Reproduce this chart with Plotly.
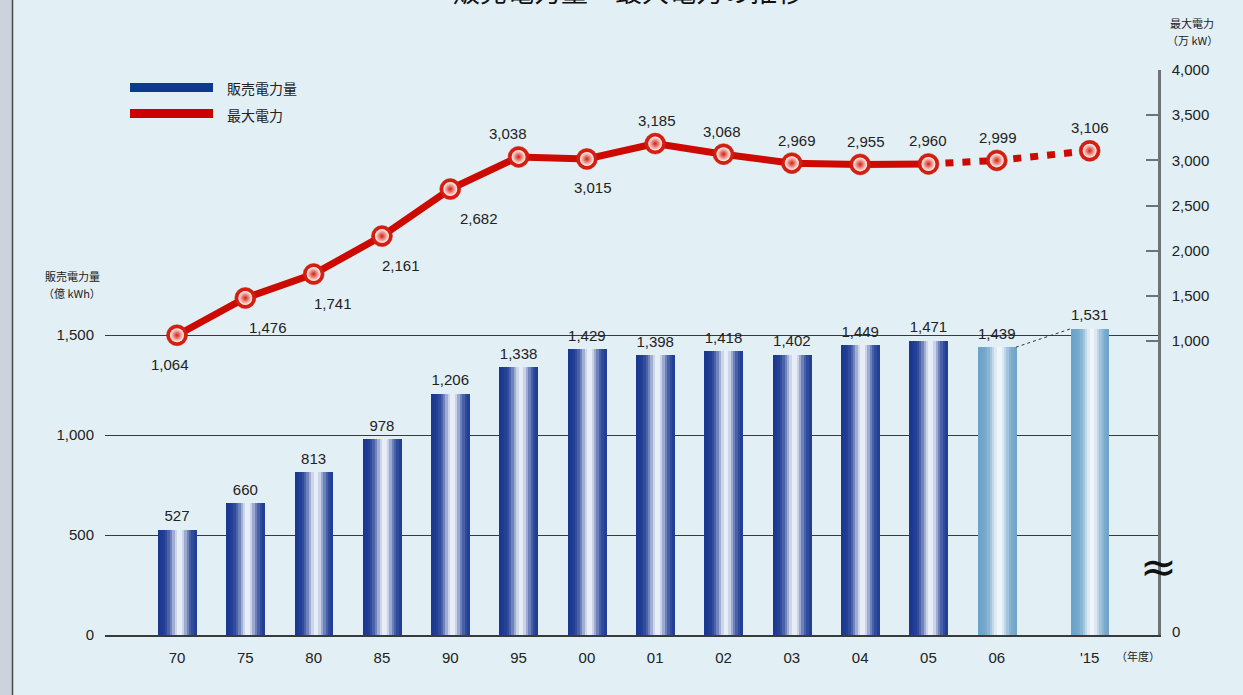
import numpy as np
import plotly.graph_objects as go

# ---------------- data ----------------
years = ["70", "75", "80", "85", "90", "95", "00", "01", "02", "03", "04", "05", "06", "'15"]
sales = [527, 660, 813, 978, 1206, 1338, 1429, 1398, 1418, 1402, 1449, 1471, 1439, 1531]   # 億kWh
peak = [1064, 1476, 1741, 2161, 2682, 3038, 3015, 3185, 3068, 2969, 2955, 2960, 2999, 3106]  # 万kW
forecast_from = 12          # index from which bars are outlook (light colour)
line_dotted_from = 11       # line becomes dotted after this index
left_ticks = [0, 500, 1000, 1500]
right_ticks = [1000, 1500, 2000, 2500, 3000, 3500, 4000]

# label placement (style): above (+1) / below (-1) the point, horizontal nudge in px
peak_label_side = [-1, -1, -1, -1, -1, 1, -1, 1, 1, 1, 1, 1, 1, 1]
peak_label_dx = [-7, 23, 19, 19, 29, -11, 6, 2, -2, 5, 6, 0, 1, 0]

# ---------------- geometry / styling ----------------
W, H = 1243, 695
ML, MR, MT, MB = 105, 85, 70, 60
PW, PH = W - ML - MR, H - MT - MB

xpos = np.arange(len(years), dtype=float)
xpos[-1] += 0.36                      # wider gap before the '15 outlook
bar_w = 0.56

def px2paper_x(px):
    return (px - ML) / PW

def px2paper_y(py):
    return (H - MB - py) / PH

BG = "#e2eff5"
TXT = "#222222"
FONT = "Liberation Sans, Arial, Noto Sans CJK JP, sans-serif"
JFONT = "Noto Sans CJK JP, sans-serif"

fig = go.Figure()

# ---- cylinder-like bars made of vertical strips ----
N = 16
dark_b, light_b = np.array([26, 56, 145]), np.array([236, 241, 249])
dark_l, light_l = np.array([108, 163, 200]), np.array([242, 247, 251])
for i in range(N):
    t = (i + 0.5) / N
    b = np.exp(-((t - 0.56) / 0.23) ** 2)
    cb = (dark_b + (light_b - dark_b) * b).astype(int)
    cl = (dark_l + (light_l - dark_l) * b).astype(int)
    colors = [f"rgb({cb[0]},{cb[1]},{cb[2]})" if k < forecast_from else f"rgb({cl[0]},{cl[1]},{cl[2]})"
              for k in range(len(years))]
    sw = bar_w / N
    fig.add_trace(go.Bar(
        x=xpos, y=sales, width=sw * 1.25, offset=-bar_w / 2 + i * sw,
        marker=dict(color=colors, line=dict(width=0)),
        hoverinfo="skip", showlegend=False, yaxis="y"))

# bar value labels
fig.add_trace(go.Scatter(
    x=xpos, y=sales, mode="markers+text", text=[f"{v:,}" for v in sales],
    marker=dict(size=6, opacity=0),
    textposition="top center", textfont=dict(size=15, color=TXT, family=FONT),
    hoverinfo="skip", showlegend=False, yaxis="y"))

# dotted connector between 06 and '15 bars
fig.add_trace(go.Scatter(
    x=[xpos[-2] + bar_w / 2, xpos[-1] - bar_w / 2], y=[sales[-2], sales[-1]],
    mode="lines", line=dict(color="#333333", width=1, dash="dot"),
    hoverinfo="skip", showlegend=False, yaxis="y"))

# ---- peak line ----
RED = "#cc0a00"
k = line_dotted_from
fig.add_trace(go.Scatter(
    x=xpos[:k + 1], y=peak[:k + 1], mode="lines",
    line=dict(color=RED, width=7), hoverinfo="skip", showlegend=False, yaxis="y2"))
fig.add_trace(go.Scatter(
    x=xpos[k:], y=peak[k:], mode="lines",
    line=dict(color=RED, width=7, dash="8px,9px"), hoverinfo="skip", showlegend=False, yaxis="y2"))
# sphere markers
BALL = "#d41e10"
fig.add_trace(go.Scatter(
    x=xpos, y=peak, mode="markers",
    marker=dict(size=21, color=BALL, line=dict(color="#c01a0c", width=0.5)),
    hoverinfo="skip", showlegend=False, yaxis="y2"))
fig.add_trace(go.Scatter(
    x=xpos, y=peak, mode="markers",
    marker=dict(size=14, color="#fff8f5",
                gradient=dict(type="radial", color=BALL), line=dict(width=0)),
    hoverinfo="skip", showlegend=False, yaxis="y2"))

# ---------------- layout ----------------
y_per_px = 1500 / 300.0
y2_lo = 1000 - (H - MB - 341) / (271 / 3000)
fig.update_layout(
    width=W, height=H, paper_bgcolor=BG, plot_bgcolor=BG,
    margin=dict(l=ML, r=MR, t=MT, b=MB),
    barmode="overlay", bargap=0, showlegend=False,
    font=dict(family=FONT, size=14, color=TXT),
    xaxis=dict(range=[-1.054, 14.36], tickvals=xpos, ticktext=years,
               showline=True, linecolor="#3a3a3a", linewidth=2, showgrid=False,
               zeroline=False, ticks="", tickfont=dict(size=15, color=TXT), ticklabelstandoff=8),
    yaxis=dict(range=[0, PH * y_per_px], tickvals=left_ticks,
               ticktext=[f"{v:,}" for v in left_ticks],
               showgrid=True, gridcolor="#3a3a3a", gridwidth=1, zeroline=False,
               showline=False, ticks="", tickfont=dict(size=15, color=TXT), ticklabelstandoff=10),
    yaxis2=dict(range=[y2_lo, 4000], overlaying="y", side="right",
                tickvals=right_ticks, ticktext=[f"{v:,}" for v in right_ticks],
                showgrid=False, zeroline=False, showline=True, linecolor="#6e7378", linewidth=2.5,
                ticks="inside", ticklen=12, tickwidth=1.5, tickcolor="#6e7378",
                tickfont=dict(size=15, color=TXT), ticklabelstandoff=8),
)

shapes = [
    # left gray band of the page
    dict(type="rect", xref="paper", yref="paper", x0=px2paper_x(-5), x1=px2paper_x(12),
         y0=px2paper_y(H + 5), y1=px2paper_y(-5), fillcolor="#cdd3dc", line=dict(width=0), layer="above"),
    dict(type="line", xref="paper", yref="paper", x0=px2paper_x(12.5), x1=px2paper_x(12.5),
         y0=px2paper_y(H + 5), y1=px2paper_y(-5), line=dict(color="#4a4a4a", width=1.5)),
    # legend swatches
    dict(type="rect", xref="paper", yref="paper", x0=px2paper_x(130), x1=px2paper_x(213),
         y0=px2paper_y(92), y1=px2paper_y(83), fillcolor="#0d3a8c", line=dict(width=0)),
    dict(type="rect", xref="paper", yref="paper", x0=px2paper_x(130), x1=px2paper_x(213),
         y0=px2paper_y(118), y1=px2paper_y(109), fillcolor="#cc0000", line=dict(width=0)),
]
fig.update_layout(shapes=shapes)

def ann(text, px, py, size=12, xanchor="left", yanchor="middle", family=JFONT, color=TXT):
    return dict(text=text, x=px2paper_x(px), y=px2paper_y(py), xref="paper", yref="paper",
                showarrow=False, xanchor=xanchor, yanchor=yanchor,
                font=dict(size=size, family=family, color=color))

annotations = [
    ann("・販売電力量・最大電力の推移・", 628, -9, size=27, xanchor="center",
        family="Noto Sans CJK JP Bold, Noto Sans CJK JP, sans-serif", color="#111111"),
    ann("販売電力量", 72, 276, size=11, xanchor="center"),
    ann("（億 kWh）", 72, 293, size=11, xanchor="center"),
    ann("最大電力", 1192, 23, size=11, xanchor="center"),
    ann("（万 kW）", 1192, 40, size=11, xanchor="center"),
    ann("販売電力量", 225, 88, size=14),
    ann("最大電力", 225, 115, size=14),
    ann("（年度）", 1138, 656, size=11, xanchor="center"),
    ann("0", 1170, 631, size=15, family=FONT),
    ann("≈", 1158, 566, size=44, xanchor="center", family="DejaVu Sans", color="#111111"),
]
# peak value labels, anchored on the data points
for xv, yv, side, dx in zip(xpos, peak, peak_label_side, peak_label_dx):
    annotations.append(dict(
        text=f"{yv:,}", x=xv, y=yv, xref="x", yref="y2", showarrow=False,
        xanchor="center", yanchor="middle", xshift=dx, yshift=23 if side > 0 else -29,
        font=dict(size=15, family=FONT, color=TXT)))
fig.update_layout(annotations=annotations)

fig.write_html("out.html", config={"displayModeBar": False},
               post_script="document.body.style.margin='0px';document.body.style.background='#e2eff5';")
